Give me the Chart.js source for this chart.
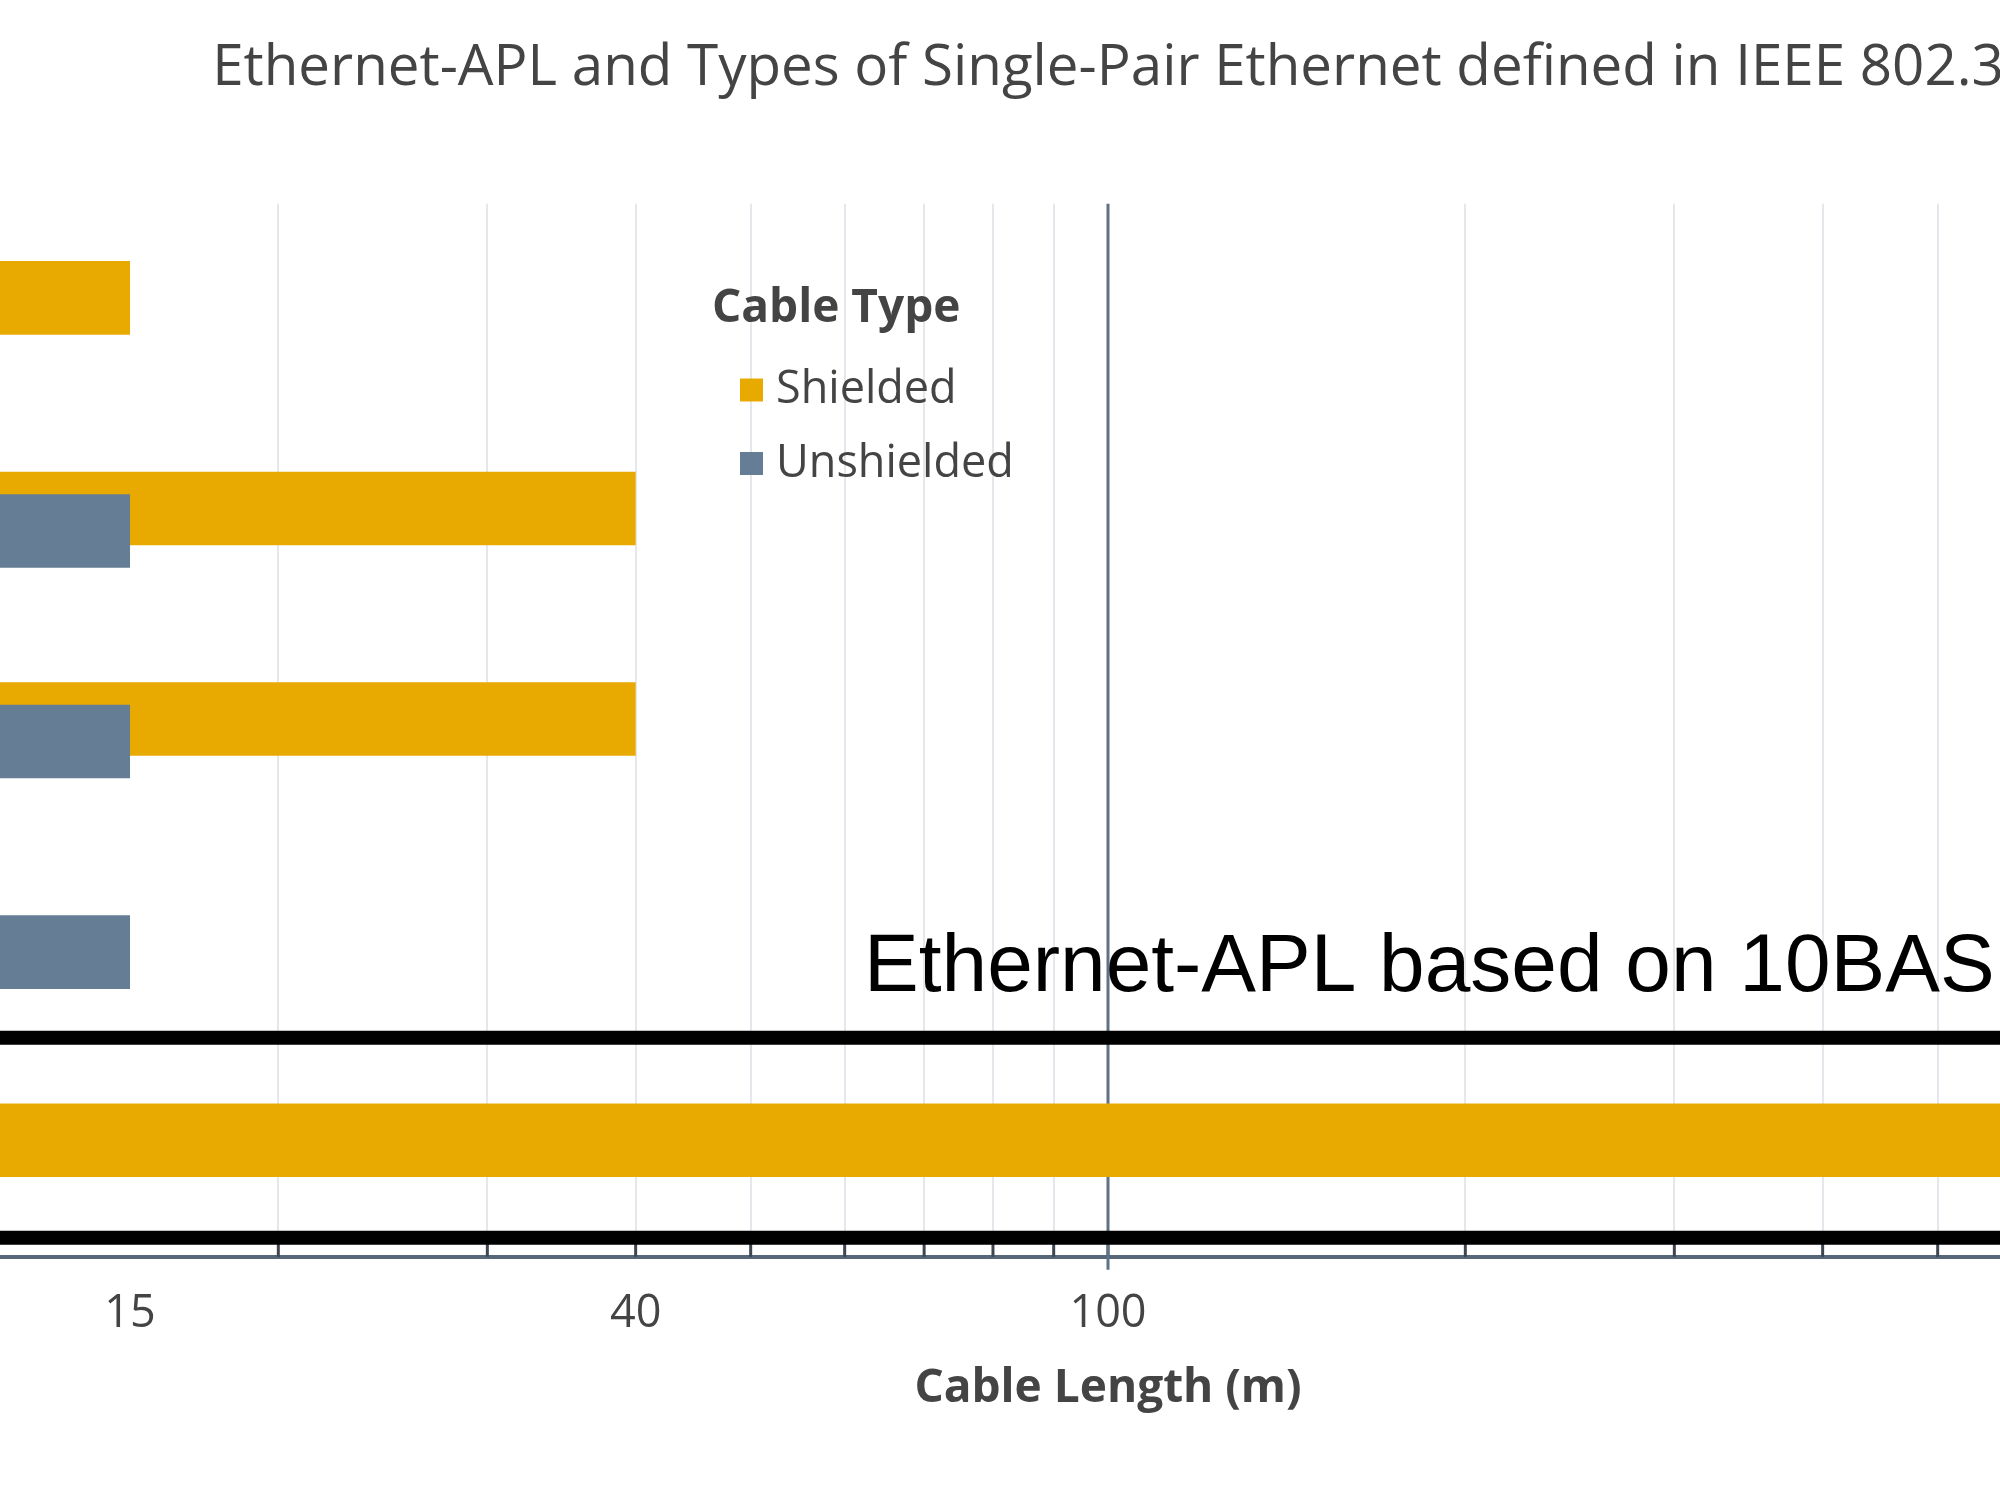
<!DOCTYPE html>
<html>
<head>
<meta charset="utf-8">
<script src="https://cdn.jsdelivr.net/npm/chart.js@4.4.1/dist/chart.umd.min.js"></script>
<style>
  html, body { margin: 0; padding: 0; background: #ffffff; overflow: hidden; }
  #frame { position: relative; width: 2000px; height: 1500px; overflow: hidden; background: #ffffff; }
  #c { position: absolute; left: -79px; top: 0; }
</style>
</head>
<body>
<div id="frame"><canvas id="c" width="2374" height="1500"></canvas></div>
<script>
// ---------------- data ----------------
const categories = ['MultiGBASE-T1', '1000BASE-T1', '100BASE-T1', '10BASE-T1S', 'Ethernet-APL (10BASE-T1L)'];
const shieldedLength = [15, 40, 40, null, 1000];
const unshieldedLength = [null, 15, 15, 15, null];
const gridTickValues = [10, 20, 30, 40, 50, 60, 70, 80, 90, 100, 200, 300, 400, 500, 600, 700, 800, 900, 1000];
const labelTickValues = [15, 40, 100];
const referenceLength = 100;
const aplBandEdges = [3.46, 4.41];            // category-axis coordinates of the APL frame
const aplNote = { text: 'Ethernet-APL based on 10BASE-T1L', x: 62.3, y: 3.13 };
const chartTitle = 'Ethernet-APL and Types of Single-Pair Ethernet defined in IEEE 802.3';
const axisTitle = 'Cable Length (m)';
const legendTitle = 'Cable Type';

// ---------------- style ----------------
const COLORS = {
  shielded: '#E8AA00',
  unshielded: '#657E95',
  text: '#444444',
  grid: '#E4E7EB',
  axis: '#56677A',
  tick: '#3E4650',
  ref: '#5F7286'
};
const allTicks = Array.from(new Set([...gridTickValues, ...labelTickValues])).sort((a, b) => a - b);

const legendLayout = { left: 791, titleBaseline: 322, firstRowCenter: 390, rowStep: 73.5, swatch: 23, swatchX: 28, textX: 64, textDrop: 13 };
const innerTickLength = 20;
const refLineOvershoot = 13;

const overlays = {
  id: 'overlays',
  beforeDatasetsDraw(chart) {
    const c = chart.ctx, a = chart.chartArea, xs = chart.scales.x;
    c.save();
    // inside tick marks
    c.strokeStyle = COLORS.tick;
    c.lineWidth = 3;
    xs.ticks.forEach(t => {
      if (!gridTickValues.includes(t.value)) return;
      const x = xs.getPixelForValue(t.value);
      c.beginPath();
      c.moveTo(x, a.bottom);
      c.lineTo(x, a.bottom - innerTickLength);
      c.stroke();
    });
    // reference line at 100 m
    const x = xs.getPixelForValue(referenceLength);
    c.strokeStyle = COLORS.ref;
    c.lineWidth = 3;
    c.beginPath();
    c.moveTo(x, a.top);
    c.lineTo(x, a.bottom + refLineOvershoot);
    c.stroke();
    c.restore();
  },
  beforeDatasetDraw(chart, args) {
    // unshielded bars are drawn later so they sit on top of the shielded ones
    if (args.index === 1) return false;
  },
  afterDatasetsDraw(chart) {
    const c = chart.ctx, a = chart.chartArea;
    const meta = chart.getDatasetMeta(1);
    c.save();
    c.beginPath();
    c.rect(a.left, a.top, a.right - a.left, a.bottom - a.top);
    c.clip();
    meta.controller.draw();
    c.restore();

    const y = chart.scales.y;
    c.save();
    c.strokeStyle = '#000000';
    c.lineWidth = 14;
    aplBandEdges.forEach(v => {
      const py = y.getPixelForValue(v);
      c.beginPath();
      c.moveTo(a.left, py);
      c.lineTo(a.right, py);
      c.stroke();
    });
    c.fillStyle = '#000000';
    c.font = '82px "Liberation Sans", Arial, sans-serif';
    c.textAlign = 'left';
    c.textBaseline = 'middle';
    c.fillText(aplNote.text, chart.scales.x.getPixelForValue(aplNote.x), y.getPixelForValue(aplNote.y));
    c.restore();
  },
  afterDraw(chart) {
    const c = chart.ctx, L = legendLayout;
    c.save();
    c.fillStyle = COLORS.text;
    c.textAlign = 'left';
    c.textBaseline = 'alphabetic';
    c.font = 'bold 46px "Open Sans", sans-serif';
    c.fillText(legendTitle, L.left, L.titleBaseline);
    c.font = '45px "Open Sans", sans-serif';
    chart.data.datasets.forEach((ds, i) => {
      const cy = L.firstRowCenter + i * L.rowStep;
      c.fillStyle = ds.backgroundColor;
      c.fillRect(L.left + L.swatchX, cy - L.swatch / 2, L.swatch, L.swatch);
      c.fillStyle = COLORS.text;
      c.fillText(ds.label, L.left + L.textX, cy + L.textDrop);
    });
    c.restore();
  }
};

new Chart(document.getElementById('c'), {
  type: 'bar',
  data: {
    labels: categories,
    datasets: [
      { label: 'Shielded', data: shieldedLength, backgroundColor: COLORS.shielded, categoryPercentage: 0.2137, barPercentage: 3.27 },
      { label: 'Unshielded', data: unshieldedLength, backgroundColor: COLORS.unshielded, categoryPercentage: 0.2137, barPercentage: 3.27 }
    ]
  },
  options: {
    indexAxis: 'y',
    responsive: false,
    animation: false,
    devicePixelRatio: 1,
    layout: { padding: 0 },
    plugins: {
      legend: { display: false },
      tooltip: { enabled: false },
      title: {
        display: true,
        text: chartTitle,
        color: COLORS.text,
        font: { family: '"Open Sans", sans-serif', size: 56.5, weight: 'normal' },
        padding: { top: 35, bottom: 101 }
      }
    },
    scales: {
      x: {
        type: 'logarithmic',
        position: 'bottom',
        min: 10,
        max: 1000,
        afterBuildTicks: s => { s.ticks = allTicks.map(v => ({ value: v })); },
        ticks: {
          autoSkip: false,
          maxRotation: 0,
          minRotation: 0,
          padding: 0,
          color: COLORS.text,
          font: { family: '"Open Sans", sans-serif', size: 45 },
          callback: v => labelTickValues.includes(v) ? String(v) : ''
        },
        grid: {
          color: c => gridTickValues.includes(c.tick && c.tick.value) ? COLORS.grid : 'rgba(0,0,0,0)',
          lineWidth: 2,
          tickLength: 30,
          tickColor: 'rgba(0,0,0,0)'
        },
        border: { display: true, color: COLORS.axis, width: 4 },
        title: {
          display: true,
          text: axisTitle,
          color: COLORS.text,
          font: { family: '"Open Sans", sans-serif', size: 46, weight: 'bold' },
          padding: { top: 20, bottom: 84 }
        }
      },
      y: { type: 'category', display: false }
    }
  },
  plugins: [overlays]
});
</script>
</body>
</html>
